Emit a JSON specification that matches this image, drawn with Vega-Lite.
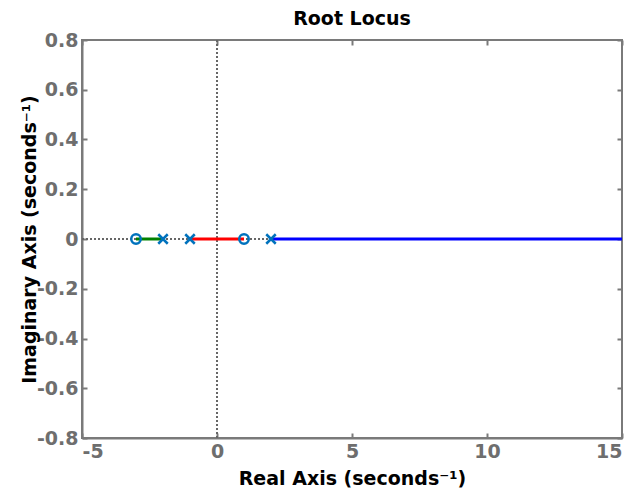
{
  "$schema": "https://vega.github.io/schema/vega-lite/v6.json",
  "width": 540,
  "height": 398,
  "autosize": {"type": "none"},
  "padding": {"left": 82, "top": 40, "right": 19, "bottom": 59},
  "background": "white",
  "title": {"text": "Root Locus", "font": "DejaVu Sans", "fontSize": 19, "fontWeight": "bold", "color": "#000000", "offset": 2},
  "config": {
    "view": {"stroke": "#7a7a7a", "strokeWidth": 2},
    "axis": {
      "labelFont": "DejaVu Sans", "labelFontSize": 19, "labelFontWeight": "bold", "labelColor": "#6e6e6e",
      "titleFont": "DejaVu Sans", "titleFontSize": 19, "titleFontWeight": "bold", "titleColor": "#000000",
      "domainColor": "#7a7a7a", "domainWidth": 2, "tickColor": "#7a7a7a", "tickWidth": 2,
      "grid": false
    }
  },
  "resolve": {"axis": {"x": "independent", "y": "independent"}},
  "datasets": {
    "guides": [
      {"x": -5, "x2": 15, "y": 0, "y2": 0},
      {"x": 0, "x2": 0, "y": -0.8, "y2": 0.8}
    ],
    "branches": [
      {"branch": "b1", "x": -3, "x2": -2, "y": 0, "y2": 0},
      {"branch": "b2", "x": -1, "x2": 1, "y": 0, "y2": 0},
      {"branch": "b3", "x": 2, "x2": 15, "y": 0, "y2": 0}
    ],
    "poles": [{"x": -2, "y": 0}, {"x": -1, "y": 0}, {"x": 2, "y": 0}],
    "zeros": [{"x": -3, "y": 0}, {"x": 1, "y": 0}]
  },
  "layer": [
    {
      "data": {"name": "guides"},
      "mark": {"type": "rule", "strokeDash": [2, 2], "strokeWidth": 2, "color": "#666666"},
      "encoding": {
        "x": {"field": "x", "type": "quantitative", "scale": {"domain": [-5, 15], "nice": false, "zero": false},
          "axis": {"orient": "bottom", "values": [-5, 0, 5, 10, 15], "labelExpr": "replace(format(datum.value, 'd'), '−', '-')", "ticks": true, "tickSize": -5, "title": "Real Axis (seconds⁻¹)", "labelPadding": 9, "titlePadding": 8}},
        "x2": {"field": "x2"},
        "y": {"field": "y", "type": "quantitative", "scale": {"domain": [-0.8, 0.8], "nice": false, "zero": false},
          "axis": {"orient": "left", "values": [-0.8, -0.6, -0.4, -0.2, 0, 0.2, 0.4, 0.6, 0.8], "labelExpr": "datum.value == 0 ? '0' : replace(format(datum.value, '.1f'), '−', '-')", "ticks": true, "tickSize": -5, "title": "Imaginary Axis (seconds⁻¹)", "labelPadding": 9, "titlePadding": -3}},
        "y2": {"field": "y2"}
      }
    },
    {
      "data": {"name": "branches"},
      "mark": {"type": "rule", "strokeWidth": 3},
      "encoding": {
        "x": {"field": "x", "type": "quantitative", "axis": {"orient": "top", "values": [-5, 0, 5, 10, 15], "labels": false, "title": null, "domain": false, "ticks": true, "tickSize": -5}},
        "x2": {"field": "x2"},
        "y": {"field": "y", "type": "quantitative", "axis": {"orient": "right", "values": [-0.8, -0.6, -0.4, -0.2, 0, 0.2, 0.4, 0.6, 0.8], "labels": false, "title": null, "domain": false, "ticks": true, "tickSize": -5}},
        "y2": {"field": "y2"},
        "color": {"field": "branch", "type": "nominal", "scale": {"domain": ["b1", "b2", "b3"], "range": ["#008000", "#ff0000", "#0000ff"]}, "legend": null}
      }
    },
    {
      "data": {"name": "poles"},
      "mark": {"type": "point", "shape": "M-1,-1L1,1M-1,1L1,-1", "size": 90, "strokeWidth": 2.5, "color": "#0072BD", "filled": false, "opacity": 1},
      "encoding": {
        "x": {"field": "x", "type": "quantitative", "axis": null},
        "y": {"field": "y", "type": "quantitative", "axis": null}
      }
    },
    {
      "data": {"name": "zeros"},
      "mark": {"type": "point", "shape": "circle", "size": 90, "strokeWidth": 2.5, "color": "#0072BD", "filled": false, "opacity": 1},
      "encoding": {
        "x": {"field": "x", "type": "quantitative", "axis": null},
        "y": {"field": "y", "type": "quantitative", "axis": null}
      }
    }
  ]
}
